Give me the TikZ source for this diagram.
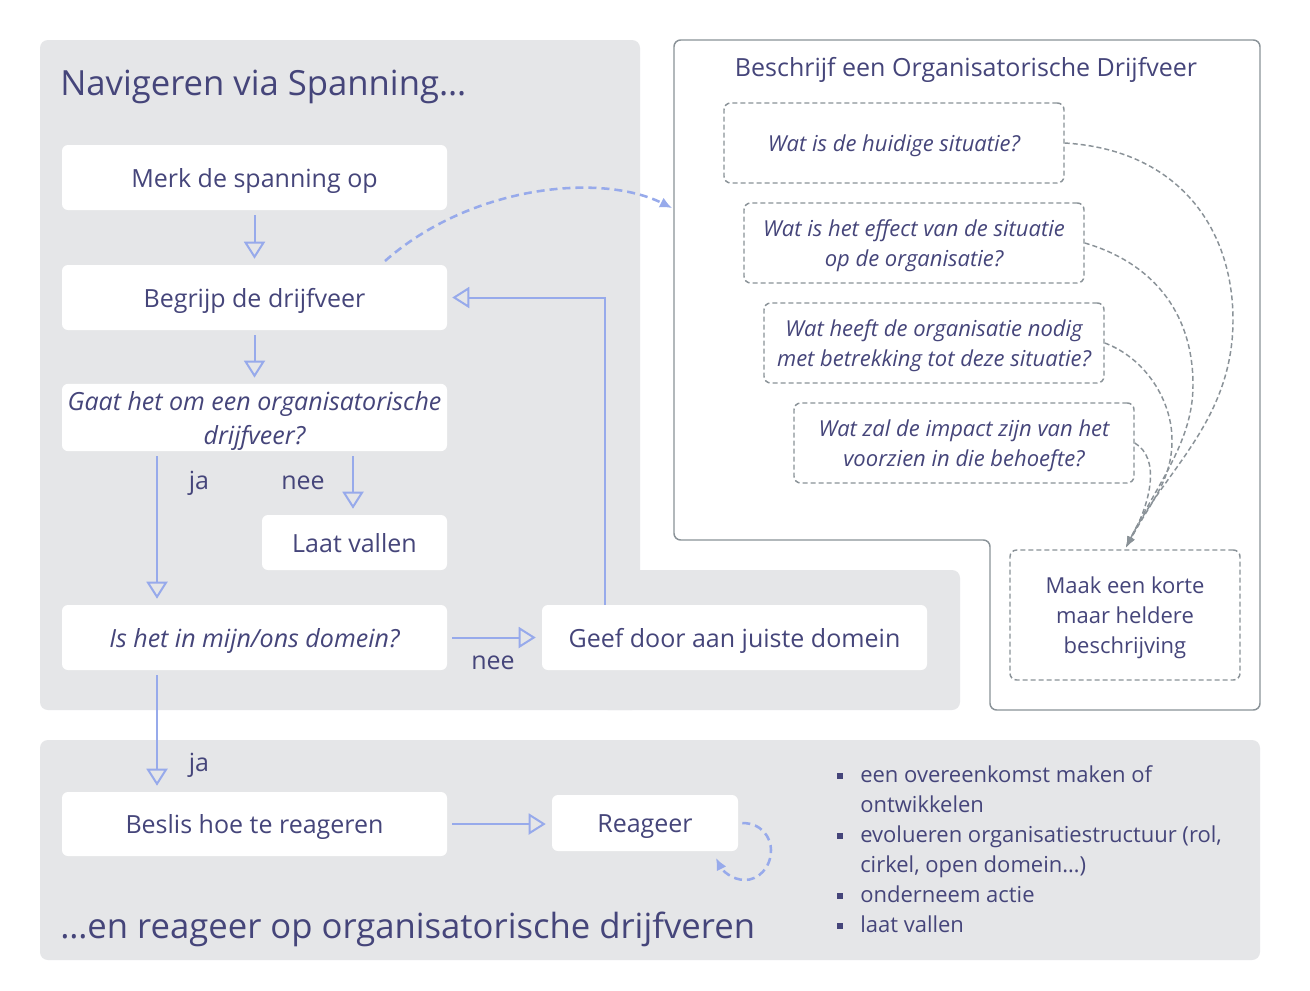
\documentclass[tikz,border=0pt]{standalone}
\usepackage{fontspec}
\setmainfont{Open Sans}
\usetikzlibrary{arrows.meta,calc}
\definecolor{txt}{RGB}{69,69,122}
\definecolor{panel}{RGB}{229,230,232}
\definecolor{arr}{RGB}{151,170,235}
\definecolor{bord}{RGB}{138,146,152}
\newcommand\fsbig{\fontsize{26pt}{32pt}\selectfont}
\newcommand\fsmid{\fontsize{18.75pt}{25.5pt}\selectfont}
\newcommand\fssm{\fontsize{16.5pt}{22.5pt}\selectfont}
\newcommand\sqbullet{\raisebox{0.3ex}{\rule{4.5pt}{4.5pt}}}
\newcommand\topstrut{\rule{0pt}{1.05em}}
\newcommand\botstrut{\rule[-0.28em]{0pt}{0.28em}}
\begin{document}
\begin{tikzpicture}[x=0.75pt,y=-0.75pt,
  box/.style={fill=white, rounded corners=4.5pt, minimum height=48.75pt, text=txt, font=\fsmid, align=center, inner sep=0pt,
    execute at begin node=\topstrut, execute at end node=\botstrut},
  qbox/.style={fill=white, draw=bord, line width=1.1pt, dash pattern=on 3.75pt off 2.25pt, rounded corners=5pt, minimum width=255pt, minimum height=60pt, text=txt, font=\fssm\itshape, align=center, inner sep=0pt,
    execute at begin node=\topstrut, execute at end node=\botstrut},
  flow/.style={draw=arr, line width=1.5pt, -{Triangle[open,length=12.75pt,width=15.75pt]}},
  bluedash/.style={draw=arr, line width=1.9pt, dash pattern=on 6pt off 3.75pt, -{Latex[length=9pt,width=8.25pt]}},
  graycurve/.style={draw=bord, line width=1.1pt, dash pattern=on 3.75pt off 2.25pt, -{Latex[length=8.25pt,width=6pt]}},
  lbl/.style={text=txt, font=\fsmid, inner sep=0pt},
  sh/.style={shorten <=3.75pt, shorten >=4.5pt},
]
\useasboundingbox (0,0) rectangle (1310,990);
\fill[white] (0,0) rectangle (1310,990);

% panels
\fill[panel, rounded corners=6pt] (40,40) rectangle (640,710);
\fill[panel, rounded corners=6pt] (600,570) rectangle (960,710);
\fill[panel, rounded corners=6pt] (40,740) rectangle (1260,960);
\draw[draw=bord, line width=1.1pt, fill=white, rounded corners=5pt]
  (674,40) -- (1260,40) -- (1260,710) -- (990,710) -- (990,540) -- (674,540) -- cycle;

% titles
\node[anchor=west, text=txt, font=\fsbig, inner sep=0pt] (t1) at (60,87) {Navigeren via Spanning…};
\node[anchor=west, text=txt, font=\fsbig, inner sep=0pt] (t2) at (60,929) {…en reageer op organisatorische drijfveren};
\node[text=txt, font=\fsmid, inner sep=0pt] (t3) at (966,70) {Beschrijf een Organisatorische Drijfveer};

% flow boxes
\node[box, minimum width=288.75pt] (merk) at (254.5,177.5) {Merk de spanning op};
\node[box, minimum width=288.75pt] (begrijp) at (254.5,297.5) {Begrijp de drijfveer};
\node[box, minimum width=288.75pt, font=\fsmid\itshape] (gaat) at (254.5,417.5) {\topstrut Gaat het om een organisatorische\\drijfveer?\botstrut};
\node[box, minimum width=138.75pt, minimum height=41.25pt] (laat) at (354.5,542.5) {Laat vallen};
\node[box, minimum width=288.75pt, font=\fsmid\itshape] (is) at (254.5,637.5) {Is het in mijn/ons domein?};
\node[box, minimum width=288.75pt] (geef) at (734.5,637.5) {Geef door aan juiste domein};
\node[box, minimum width=288.75pt, minimum height=48pt] (beslis) at (254.5,824) {Beslis hoe te reageren};
\node[box, minimum width=139.5pt, minimum height=42pt] (reageer) at (645,823) {Reageer};

% question boxes
\node[qbox] (q1) at (894,143) {Wat is de huidige situatie?};
\node[qbox] (q2) at (914,243) {\topstrut Wat is het effect van de situatie\\op de organisatie?\botstrut};
\node[qbox] (q3) at (934,343) {\topstrut Wat heeft de organisatie nodig\\met betrekking tot deze situatie?\botstrut};
\node[qbox] (q4) at (964,443) {\topstrut Wat zal de impact zijn van het\\voorzien in die behoefte?\botstrut};
\node[qbox, minimum width=172.5pt, minimum height=97.5pt, font=\fssm] (maak) at (1125,615) {\topstrut Maak een korte\\maar heldere\\beschrijving\botstrut};

% helper coordinates
\coordinate (jax) at (157,0);
\coordinate (neex) at (353,0);
\coordinate (retx) at (605,0);
\coordinate (bstart) at (385,261);
\coordinate (rpw) at (672,208);

% flow arrows
\draw[flow, sh] (merk) -- (begrijp);
\draw[flow, sh] (begrijp) -- (gaat);
\draw[flow, sh] (gaat.south -| jax) -- (is.north -| jax);
\draw[flow, sh] (gaat.south -| neex) -- (laat.north -| neex);
\draw[flow, sh] (is) -- (geef);
\draw[flow, shorten >=3.75pt] (geef.north -| retx) |- (begrijp.east);
\draw[flow, sh] (is.south -| jax) -- (beslis.north -| jax);
\draw[flow, sh] (beslis.east) -- (beslis.east -| reageer.west);

% labels
\node[lbl] (l1) at (199,483) {ja};
\node[lbl] (l2) at (303,483) {nee};
\node[lbl] (l3) at (493,663) {nee};
\node[lbl] (l4) at (199,765) {ja};

% dashed blue arrows
\draw[bluedash] (bstart) .. controls (470,186) and (600,172) .. (rpw);
\draw[bluedash] ([xshift=3pt]reageer.east) .. controls (762,823) and (771,838) .. (771,850)
  .. controls (771,868) and (758,880) .. (745,880)
  .. controls (732,880) and (722,870) .. (716,858);

% gray curves
\draw[graycurve, shorten >=1.5pt] (q1.east) .. controls (1180,150) and (1233,230) .. (1233,320)
  .. controls (1233,420) and (1165,470) .. (maak.north);
\draw[graycurve, shorten >=1.5pt] (q2.east) .. controls (1150,262) and (1193,310) .. (1193,385)
  .. controls (1193,440) and (1160,480) .. (maak.north);
\draw[graycurve, shorten >=1.5pt] (q3.east) .. controls (1145,358) and (1172,400) .. (1172,440)
  .. controls (1172,480) and (1152,500) .. (maak.north);
\draw[graycurve, shorten >=1.5pt] (q4.east) .. controls (1160,458) and (1152,500) .. (maak.north);

% bullet list
\node[anchor=north west, text=txt, font=\fssm, inner sep=0pt] (list) at (837,761) {%
\begin{tabular}{@{}l@{\hspace{12.75pt}}l@{}}
\sqbullet & een overeenkomst maken of\\
 & ontwikkelen\\
\sqbullet & evolueren organisatiestructuur (rol,\\
 & cirkel, open domein…)\\
\sqbullet & onderneem actie\\
\sqbullet & laat vallen
\end{tabular}};
\end{tikzpicture}
\end{document}
